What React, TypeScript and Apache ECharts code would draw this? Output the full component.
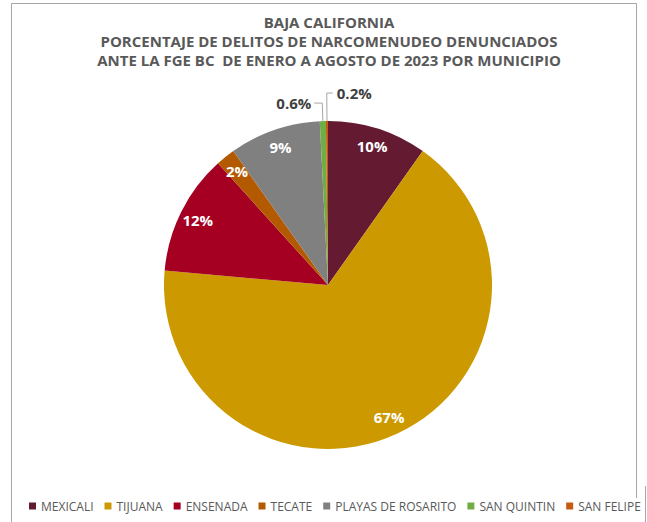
import React, { useEffect, useRef } from "react";
import * as echarts from "echarts";

const titleLines = [
  "BAJA CALIFORNIA",
  "PORCENTAJE DE DELITOS DE NARCOMENUDEO DENUNCIADOS",
  "ANTE LA FGE BC  DE ENERO A AGOSTO DE 2023 POR MUNICIPIO",
];
const municipios = [
  "MEXICALI",
  "TIJUANA",
  "ENSENADA",
  "TECATE",
  "PLAYAS DE ROSARITO",
  "SAN QUINTIN",
  "SAN FELIPE",
];
const porcentajes = [9.8, 66.6, 11.9, 1.9, 9.0, 0.6, 0.2];
const colores = ["#641B31", "#CC9900", "#A50021", "#B35A00", "#808080", "#70AD47", "#C55A11"];

const FONT = "'Open Sans', 'DejaVu Sans', sans-serif";

function fmt(v: number) {
  return v < 1 ? v.toFixed(1) + "%" : Math.round(v) + "%";
}

export default function App() {
  const ref = useRef<HTMLDivElement>(null);
  useEffect(() => {
    if (!ref.current) return;
    const chart = echarts.init(ref.current, undefined, { renderer: "svg" });
    const cx = 328;
    const cy = 285;
    const r = 164;
    const mainData = municipios.map((name, i) => {
      const small = porcentajes[i] < 1;
      return {
        name,
        value: porcentajes[i],
        itemStyle: { color: colores[i] },
        label: { show: small },
        labelLine: small
          ? { show: true, length: i === 5 ? 18 : 28, length2: i === 5 ? 8 : 6 }
          : { show: false },
      };
    });
    const overlayData = municipios.map((name, i) => ({
      name,
      value: porcentajes[i],
      itemStyle: { color: "rgba(0,0,0,0)" },
      label: { show: porcentajes[i] >= 1 },
    }));
    chart.setOption({
      animation: false,
      backgroundColor: "#ffffff",
      graphic: [
        ...titleLines.map((t, i) => ({
          type: "text",
          x: 329,
          y: 22 + i * 19,
          style: {
            text: t,
            textAlign: "center",
            textVerticalAlign: "middle",
            fill: "#595959",
            font: `bold 15px ${FONT}`,
          },
        })),
        {
          type: "polyline",
          shape: { points: [[11.5, 530], [11.5, 3.5], [636.5, 3.5], [636.5, 498]] },
          style: { fill: "none", stroke: "#a6a6a6", lineWidth: 1 },
        },
        {
          type: "line",
          shape: { x1: 645.5, y1: 486, x2: 645.5, y2: 530 },
          style: { stroke: "#a6a6a6", lineWidth: 1 },
        },
      ],
      legend: {
        data: municipios,
        left: 29,
        top: 500,
        padding: 0,
        itemWidth: 7,
        itemHeight: 7,
        itemGap: 11,
        icon: "rect",
        textStyle: { fontFamily: FONT, fontSize: 12, color: "#595959" },
        selectedMode: false,
      },
      series: [
        {
          type: "pie",
          center: [cx, cy],
          radius: [0, r],
          startAngle: 90,
          clockwise: true,
          avoidLabelOverlap: false,
          data: mainData,
          label: {
            position: "outside",
            formatter: (p: any) => fmt(p.value),
            fontFamily: FONT,
            fontWeight: "bold",
            fontSize: 15,
            color: "#404040",
            distanceToLabelLine: 3,
          },
          labelLine: { lineStyle: { color: "#a6a6a6", width: 1 } },
          labelLayout: (params: any) => {
            if (params.dataIndex === 6 && params.labelLinePoints) {
              const pts = params.labelLinePoints;
              const p0 = pts[0];
              const p1 = pts[1];
              const p2 = pts[2];
              const nx = p1[0] + (p1[0] - p2[0]);
              return {
                x: nx + 4,
                y: p2[1],
                align: "left",
                verticalAlign: "middle",
                labelLinePoints: [p0, p1, [nx, p2[1]]],
              };
            }
            return {};
          },
          emphasis: { disabled: true },
        },
        {
          type: "pie",
          center: [cx, cy],
          radius: [121, r],
          startAngle: 90,
          clockwise: true,
          silent: true,
          avoidLabelOverlap: false,
          data: overlayData,
          label: {
            position: "inside",
            formatter: (p: any) => fmt(p.value),
            fontFamily: FONT,
            fontWeight: "bold",
            fontSize: 15,
            color: "#ffffff",
          },
          labelLine: { show: false },
          emphasis: { disabled: true },
        },
      ],
    });
    return () => chart.dispose();
  }, []);
  return (
    <div style={{ position: "fixed", left: 0, top: 0, width: 647, height: 522, background: "#fff" }}>
      <div ref={ref} style={{ width: 647, height: 522 }} />
    </div>
  );
}
